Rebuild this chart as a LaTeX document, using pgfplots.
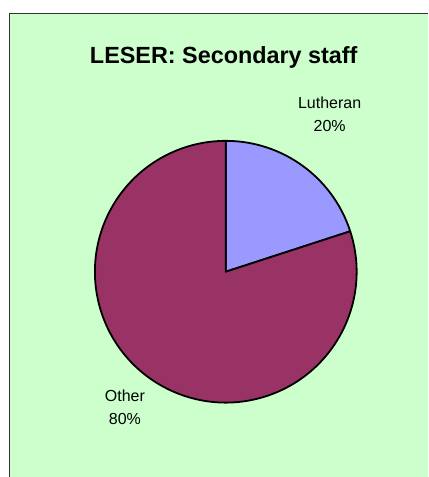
\documentclass[border=0pt]{standalone}
\usepackage{pgfplots}
\usepackage{pgfplotstable}
\pgfplotsset{compat=1.18}
\usepackage{fontspec}
\setmainfont{Liberation Sans}

\definecolor{bgGreen}{HTML}{CCFFCC}
\definecolor{lutheranCol}{HTML}{9999FF}
\definecolor{otherCol}{HTML}{993366}

% pie shares (percent)
\pgfplotstableread{
label value
Lutheran 20
Other 80
}\piedata

\pgfplotstablegetelem{0}{value}\of\piedata \let\valA\pgfplotsretval
\pgfplotstablegetelem{1}{value}\of\piedata \let\valB\pgfplotsretval
\pgfmathsetmacro{\angA}{90-3.6*\valA}
\pgfmathsetmacro{\angB}{\angA-3.6*\valB}

\begin{document}
\begin{tikzpicture}
\begin{axis}[
    scale only axis,
    width=428pt, height=477pt,
    xmin=0, xmax=428, ymin=0, ymax=477,
    axis lines=none,
    clip=false,
]
% background + chart area
\fill[white] (axis cs:0,0) rectangle (axis cs:428,477);
\fill[bgGreen] (axis cs:10,0) rectangle (axis cs:428,463);
\draw[black!80, line width=1pt] (axis cs:10,0) -- (axis cs:10,463) -- (axis cs:428,463);

% wedges
\filldraw[fill=lutheranCol, draw=black, line width=1.8pt, line join=round]
    (axis cs:226,205) -- ++(90:131pt) arc[start angle=90, end angle=\angA, radius=131pt] -- cycle;
\filldraw[fill=otherCol, draw=black, line width=1.8pt, line join=round]
    (axis cs:226,205) -- ++(\angA:131pt) arc[start angle=\angA, end angle=\angB, radius=131pt] -- cycle;

% labels
\node[font=\bfseries\fontsize{23.4}{28}\selectfont] at (axis cs:224,419) {LESER: Secondary staff};
\node[align=center, font=\fontsize{16}{23}\selectfont] at (axis cs:330,363) {Lutheran\\20\%};
\node[align=center, font=\fontsize{16}{23}\selectfont] at (axis cs:125,69) {Other\\80\%};
\end{axis}
\end{tikzpicture}
\end{document}
